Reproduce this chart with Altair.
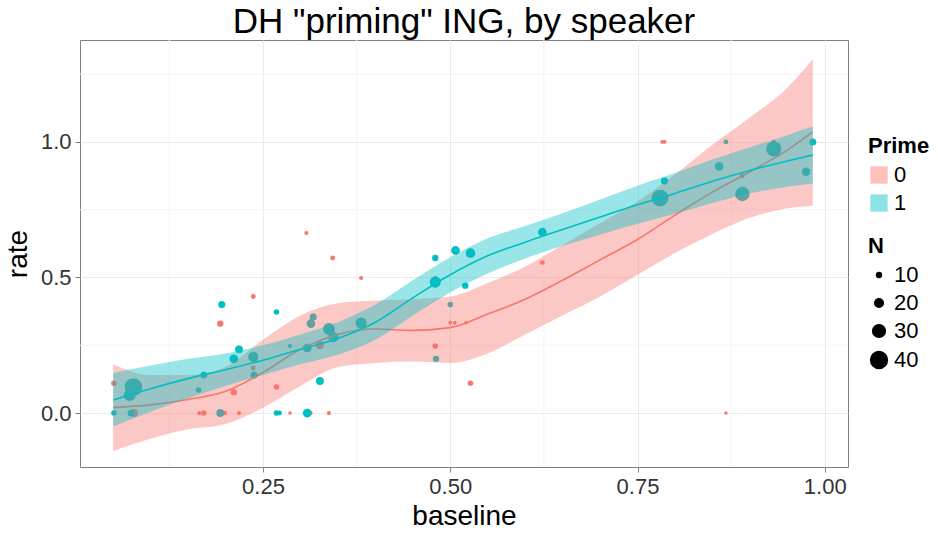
import altair as alt
import pandas as pd

RED = "#F8766D"
CYAN = "#00BFC4"
FONT = "Liberation Sans"

# ---- speaker points, Prime = 0 ----
p0_baseline = [0.051, 0.078, 0.165, 0.171, 0.193, 0.199, 0.211, 0.218, 0.237, 0.237,
               0.268, 0.286, 0.308, 0.313, 0.326, 0.338, 0.343, 0.381, 0.480, 0.480,
               0.500, 0.506, 0.521, 0.527, 0.623, 0.783, 0.786, 0.868, 0.890, 0.932, 0.984]
p0_rate = [0.11, 0.0, 0.0, 0.0, 0.33, 0.0, 0.077, 0.0, 0.43, 0.166,
           0.096, 0.0, 0.664, 0.0, 0.25, 0.0, 0.572, 0.498, 0.50, 0.247,
           0.333, 0.333, 0.333, 0.11, 0.555, 1.0, 1.0, 0.0, 0.875, 1.0, 1.0]
p0_n = [12, 18, 8, 12, 14, 9, 14, 8, 10, 10,
        12, 6, 8, 10, 18, 8, 10, 8, 6, 12,
        7, 7, 6, 12, 10, 7, 7, 6, 10, 8, 6]

# ---- speaker points, Prime = 1 ----
p1_baseline = [0.051, 0.077, 0.072, 0.074, 0.164, 0.171, 0.195, 0.193, 0.211, 0.218,
               0.237, 0.238, 0.268, 0.268, 0.272, 0.286, 0.309, 0.309, 0.314, 0.317,
               0.326, 0.338, 0.344, 0.381, 0.480, 0.480, 0.481, 0.500, 0.507, 0.527,
               0.520, 0.623, 0.786, 0.780, 0.868, 0.859, 0.890, 0.932, 0.975, 0.984]
p1_rate = [0.0, 0.096, 0.066, 0.0, 0.085, 0.14, 0.40, 0.0, 0.20, 0.235,
           0.207, 0.14, 0.373, 0.0, 0.0, 0.247, 0.0, 0.24, 0.33, 0.354,
           0.118, 0.31, 0.28, 0.332, 0.572, 0.483, 0.20, 0.40, 0.60, 0.59,
           0.47, 0.667, 0.856, 0.793, 1.0, 0.91, 0.808, 0.974, 0.89, 1.0]
p1_n = [12, 42, 28, 16, 12, 15, 16, 18, 20, 18,
        24, 16, 12, 12, 10, 8, 20, 20, 20, 16,
        18, 28, 24, 26, 14, 26, 14, 12, 20, 22,
        14, 20, 16, 40, 10, 20, 34, 36, 20, 16]

# ---- loess fits with confidence band ----
fit_x = [0.05, 0.10, 0.15, 0.20, 0.25, 0.30, 0.35, 0.40, 0.45, 0.50,
         0.55, 0.60, 0.65, 0.70, 0.75, 0.80, 0.85, 0.90, 0.95, 0.984]
p0_fit = [0.02, 0.03, 0.05, 0.08, 0.15, 0.235, 0.29, 0.31, 0.305, 0.315,
          0.365, 0.42, 0.49, 0.565, 0.64, 0.73, 0.815, 0.89, 0.97, 1.037]
p0_lo = [-0.14, -0.095, -0.06, -0.04, 0.02, 0.10, 0.17, 0.185, 0.19, 0.185,
         0.22, 0.29, 0.36, 0.43, 0.51, 0.59, 0.66, 0.72, 0.755, 0.765]
p0_hi = [0.18, 0.14, 0.14, 0.17, 0.27, 0.36, 0.405, 0.415, 0.42, 0.43,
         0.48, 0.54, 0.62, 0.70, 0.78, 0.88, 0.99, 1.09, 1.20, 1.305]
p1_fit = [0.048, 0.09, 0.127, 0.16, 0.195, 0.235, 0.275, 0.335, 0.425, 0.51,
          0.58, 0.63, 0.677, 0.723, 0.768, 0.81, 0.855, 0.895, 0.93, 0.952]
p1_lo = [-0.05, 0.005, 0.055, 0.10, 0.14, 0.18, 0.215, 0.27, 0.36, 0.445,
         0.515, 0.57, 0.617, 0.658, 0.698, 0.735, 0.775, 0.81, 0.835, 0.847]
p1_hi = [0.148, 0.175, 0.20, 0.22, 0.25, 0.29, 0.335, 0.40, 0.49, 0.575,
         0.645, 0.69, 0.737, 0.788, 0.838, 0.885, 0.935, 0.98, 1.025, 1.057]

x_ticks = [0.25, 0.50, 0.75, 1.00]
y_ticks = [0.0, 0.5, 1.0]
x_minor = [0.125, 0.375, 0.625, 0.875]
y_minor = [0.25, 0.75, 1.25]
n_breaks = [10, 20, 30, 40]

points = pd.concat([
    pd.DataFrame({"baseline": p0_baseline, "rate": p0_rate, "N": p0_n, "Prime": "0"}),
    pd.DataFrame({"baseline": p1_baseline, "rate": p1_rate, "N": p1_n, "Prime": "1"}),
], ignore_index=True)

s0 = pd.DataFrame({"baseline": fit_x, "fit": p0_fit, "lo": p0_lo, "hi": p0_hi, "Prime": "0"})
s1 = pd.DataFrame({"baseline": fit_x, "fit": p1_fit, "lo": p1_lo, "hi": p1_hi, "Prime": "1"})

xscale = alt.Scale(domain=[0.0057, 1.031], nice=False, zero=False)
yscale = alt.Scale(domain=[-0.199, 1.376], nice=False, zero=False)
cscale = alt.Scale(domain=["0", "1"], range=[RED, CYAN])

x_enc = alt.X("baseline:Q", scale=xscale,
              axis=alt.Axis(values=x_ticks, format=".2f", title="baseline"))
y_enc = alt.Y("rate:Q", scale=yscale,
              axis=alt.Axis(values=y_ticks, format=".1f", title="rate"))

minor_x = alt.Chart(pd.DataFrame({"v": x_minor})).mark_rule(
    color="#F4F4F4", strokeWidth=1).encode(x=alt.X("v:Q", scale=xscale))
minor_y = alt.Chart(pd.DataFrame({"v": y_minor})).mark_rule(
    color="#F4F4F4", strokeWidth=1).encode(y=alt.Y("v:Q", scale=yscale))

pts = alt.Chart(points).mark_circle(opacity=1).encode(
    x=x_enc,
    y=y_enc,
    color=alt.Color("Prime:N", scale=cscale,
                    legend=alt.Legend(title="Prime", symbolType="square", symbolSize=300,
                                      symbolOpacity=0.45, orient="none",
                                      legendX=788, legendY=96)),
    size=alt.Size("N:Q", scale=alt.Scale(type="pow", exponent=2, domain=[-6, 50], range=[0, 440]),
                  legend=alt.Legend(title="N", values=n_breaks, symbolFillColor="black",
                                    symbolStrokeColor="black", symbolOpacity=1,
                                    orient="none", legendX=788, legendY=196)),
)


def band(df, col):
    return alt.Chart(df).mark_area(opacity=0.4, color=col, interpolate="monotone").encode(
        x=alt.X("baseline:Q", scale=xscale),
        y=alt.Y("lo:Q", scale=yscale),
        y2="hi:Q",
    )


def curve(df, col):
    return alt.Chart(df).mark_line(color=col, strokeWidth=1.6, interpolate="monotone").encode(
        x=alt.X("baseline:Q", scale=xscale),
        y=alt.Y("fit:Q", scale=yscale),
    )


chart = alt.layer(
    minor_x, minor_y, pts,
    band(s0, RED), curve(s0, RED),
    band(s1, CYAN), curve(s1, CYAN),
).properties(
    width=768, height=427,
    title=alt.TitleParams('DH "priming" ING, by speaker', fontSize=35, font=FONT,
                          fontWeight="normal", anchor="middle", color="black", offset=0),
    autosize=alt.AutoSizeParams(type="none"),
    padding={"left": 80, "top": 40, "right": 90, "bottom": 66},
).configure_view(
    stroke="#7F7F7F", strokeWidth=1
).configure_axis(
    grid=True, gridColor="#EBEBEB", gridWidth=1, domain=False,
    tickColor="#7F7F7F", tickSize=5,
    labelFont=FONT, labelFontSize=22, labelColor="#333333", labelPadding=4,
    titleFont=FONT, titleFontSize=28, titleFontWeight="normal", titleColor="black",
).configure_axisX(titlePadding=5).configure_axisY(titlePadding=8).configure_legend(
    titleFont=FONT, titleFontSize=22, titleFontWeight="bold", titleColor="black",
    labelFont=FONT, labelFontSize=22, labelColor="black", rowPadding=6, titlePadding=6,
)

chart.save("out.html", embed_options={"renderer": "svg", "actions": False})
